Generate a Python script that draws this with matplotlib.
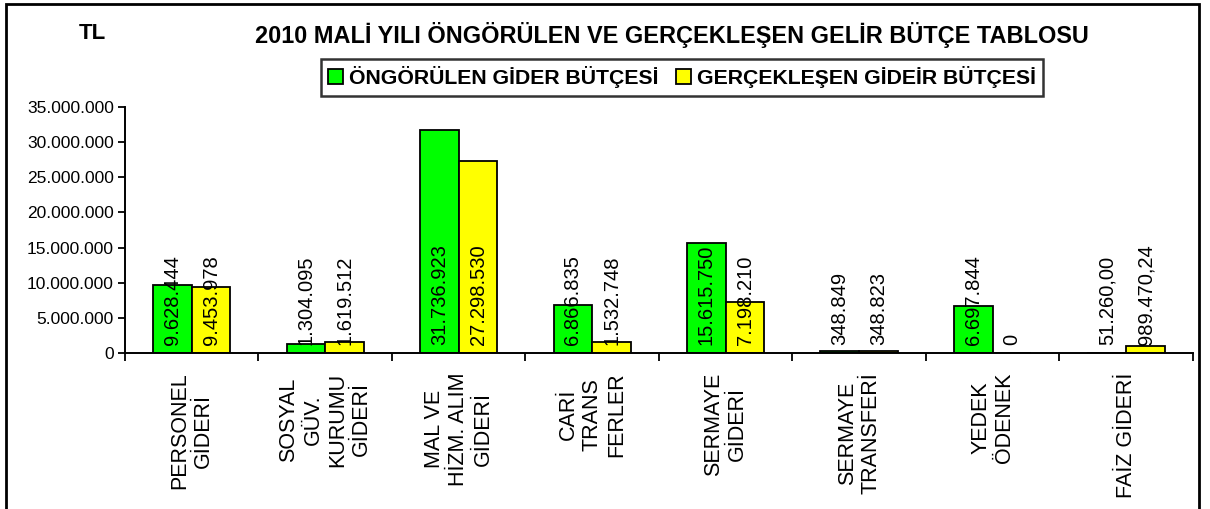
import matplotlib.pyplot as plt
import matplotlib.patches as mpatches
import numpy as np

plt.rcParams['font.family'] = ['Liberation Sans', 'DejaVu Sans']

# chart data
categories = ["PERSONEL\nGİDERİ", "SOSYAL\nGÜV.\nKURUMU\nGİDERİ", "MAL VE\nHİZM. ALIM\nGİDERİ",
              "CARİ\nTRANS\nFERLER", "SERMAYE\nGİDERİ", "SERMAYE\nTRANSFERİ",
              "YEDEK\nÖDENEK", "FAİZ GİDERİ"]
ongorulen = [9628444, 1304095, 31736923, 6866835, 15615750, 348849, 6697844, 51260.00]
gerceklesen = [9453978, 1619512, 27298530, 1532748, 7198210, 348823, 0, 989470.24]
ongorulen_labels = ["9.628.444", "1.304.095", "31.736.923", "6.866.835", "15.615.750",
                    "348.849", "6.697.844", "51.260,00"]
gerceklesen_labels = ["9.453.978", "1.619.512", "27.298.530", "1.532.748", "7.198.210",
                      "348.823", "0", "989.470,24"]
yticks = [0, 5000000, 10000000, 15000000, 20000000, 25000000, 30000000, 35000000]
ytick_labels = ["0", "5.000.000", "10.000.000", "15.000.000", "20.000.000",
                "25.000.000", "30.000.000", "35.000.000"]

fig = plt.figure(figsize=(12.1, 5.09), dpi=100)
ax = fig.add_axes([0.1033, 0.3065, 0.8826, 0.4833])

x = np.arange(len(categories))
w = 0.29
b1 = ax.bar(x - w / 2, ongorulen, w, color='#00ff00', edgecolor='black', linewidth=1.3,
            label='ÖNGÖRÜLEN GİDER BÜTÇESİ')
b2 = ax.bar(x + w / 2, gerceklesen, w, color='#ffff00', edgecolor='black', linewidth=1.3,
            label='GERÇEKLEŞEN GİDEİR BÜTÇESİ')

# value labels at the base of each bar
for xs, labels in ((x - w / 2, ongorulen_labels), (x + w / 2, gerceklesen_labels)):
    for xi, lab in zip(xs, labels):
        ax.annotate(lab, (xi, 0), xytext=(0, 6), textcoords='offset points',
                    rotation=90, ha='center', va='bottom', fontsize=14.5)

ax.set_xlim(-0.5, len(categories) - 0.5)
ax.set_ylim(0, 35000000)
ax.set_yticks(yticks)
ax.set_yticklabels(ytick_labels, fontsize=12.5)
ax.set_xticks(x)
ax.set_xticklabels(categories, rotation=90, fontsize=15.5, va='top', ha='center',
                   multialignment='center')
ax.set_xticks(np.arange(len(categories) + 1) - 0.5, minor=True)
ax.tick_params(axis='x', which='major', length=0, pad=14)
ax.tick_params(axis='x', which='minor', length=6, width=1.3, direction='out')
ax.tick_params(axis='y', length=5, width=1.3, direction='out', pad=3)
for side in ('top', 'right'):
    ax.spines[side].set_visible(False)
for side in ('left', 'bottom'):
    ax.spines[side].set_linewidth(1.4)

fig.text(0.5555, 0.931, "2010 MALİ YILI ÖNGÖRÜLEN VE GERÇEKLEŞEN GELİR BÜTÇE TABLOSU",
         ha='center', va='center', fontsize=16.9, fontweight='bold')
fig.text(0.076, 0.935, "TL", ha='center', va='center', fontsize=16, fontweight='bold')

leg = fig.legend(handles=[b1, b2], loc='center', bbox_to_anchor=(0.5636, 0.848),
                 ncol=2, frameon=True, fancybox=False, edgecolor='black',
                 prop={'weight': 'bold', 'size': 15.3}, handlelength=0.7, handleheight=0.7,
                 handletextpad=0.3, columnspacing=0.8, borderpad=0.35, borderaxespad=0)
leg.get_frame().set_linewidth(1.8)

# outer frame (bottom edge falls outside the image)
fig.patches.append(mpatches.Rectangle((0.005, -0.01), 0.986, 1.002, transform=fig.transFigure,
                                      fill=False, edgecolor='black', linewidth=2))

fig.savefig('out.png', dpi=100)
